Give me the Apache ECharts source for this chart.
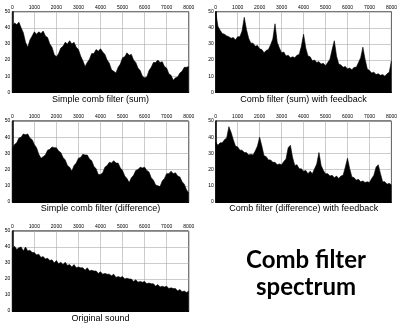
<!DOCTYPE html>
<html>
<head>
<meta charset="utf-8">
<script src="https://cdn.jsdelivr.net/npm/echarts@6/dist/echarts.min.js"></script>
<style>
html,body{margin:0;padding:0;background:#fff;}
#c{width:400px;height:327px;}
</style>
</head>
<body>
<div id="c"></div>
<script>
// Frequency step between samples (Hz); samples run 0..8000
const freqStep = 100;
const xTicks = [0,1000,2000,3000,4000,5000,6000,7000,8000];
const yTicks = [0,10,20,30,40,50];

const panelTitles = [
  "Simple comb filter (sum)",
  "Comb filter (sum) with feedback",
  "Simple comb filter (difference)",
  "Comb filter (difference) with feedback",
  "Original sound"
];
const mainTitle = ["Comb filter", "spectrum"];

const combSum = [41,43,42,43.5,40,37,31,28,32.5,35,37.5,36,37.5,36.5,38,35,34,30,28,23.5,22,24,27.5,28.5,31,30,32,30,31,28,26.5,22.5,19.5,16,18.5,20.5,24,24,26.5,25.5,27,25,23.5,20,18,14,13,12,15.5,17.5,21.5,22,24.5,23,23.5,20,18.5,15,13.5,10,9,9.5,13.5,15.5,18.5,18.5,20,18.5,19,16,15,11.5,10.5,7.5,9,9.5,12,13,15.5,15.5,16];

const combSumFb = [50,41,38.5,36.5,36,35,34.5,33.5,34,32.5,34.5,34.5,38,46.5,39,33.5,30.5,30.5,28.5,29,27,26.5,24.5,26,26.5,29.5,33,42.5,31,27.5,24.5,25,22.5,23,21.5,22,21.5,23,23.5,28.5,36,27.5,22.5,22,19.5,20,18.5,19,17.5,18,16.5,18.5,20.5,26.5,32,22.5,17.5,17,15.5,16,14.5,15,14,15.5,15.5,18.5,21.5,28,20.5,14.5,13.5,12,12.5,11,11.5,10.5,11,10,11.5,12.5,19.5];

const combDiff = [33,35.5,36.5,39.5,40,42,41.5,42,39.5,38.5,35.5,33.5,29.5,27,28,29,32,32.5,34,33.5,33.5,31.5,30.5,27.5,26,22.5,21.5,19,22.5,24,27,27.5,29.5,29,29,26.5,25.5,22,20.5,17,17,18,21.5,22.5,24.5,24,25.5,24,24,21,19.5,16,14.5,12,15,16.5,19.5,20,21.5,21,21.5,19.5,18.5,15,13.5,10.5,10,9.5,13,14.5,17.5,17.5,19,17.5,18,16,15.5,12.5,11,7.5,5.5];

const combDiffFb = [37,35,36.5,36.5,38.5,39.5,46.5,43,38.5,34.5,34,32,32,30.5,30.5,29,29.5,29,31.5,34.5,40,34.5,28.5,28,26,26,24.5,24.5,23,23.5,23,25,26.5,33.5,35,27.5,22.5,23,20.5,20.5,19,19.5,17.5,19,17.5,20.5,23.5,30.5,22.5,19.5,17.5,17.5,16,16.5,15,16,14.5,16,16.5,21.5,27,20.5,15.5,15,13.5,14,12.5,13,12,12.5,12,14.5,16.5,21.5,23,17.5,12.5,12.5,11,11.5,10.5];

const original = [39,40.5,38.5,39.5,40,37.5,40,37.5,38,36.5,36.5,35,35.5,33.5,34,32.5,33,31.5,32,30,31.5,29.5,30.5,29,30.5,28.5,29,27.5,29,27,27.5,27,27,25.5,27,25,25.5,25,25,23.5,24.5,23,23.5,23,23,22,23,21,21.5,21,21.5,20,20.5,20,20,18.5,19.5,18,18.5,18,18.5,17,17.5,17,17,15.5,16.5,15,15.5,15,15.5,14,14.5,14,14,12.5,13.5,12,12.5,11.5,12.5];

const seriesList = [combSum, combSumFb, combDiff, combDiffFb, original];

const grids = [
  {left:12.3, top:11.7, width:176.4, height:80.6},
  {left:215.7, top:11.7, width:176, height:80.6},
  {left:12.3, top:121, width:176.4, height:81},
  {left:215.7, top:121, width:176, height:81},
  {left:12.3, top:231, width:176.4, height:80}
];
const titlePos = [[100.5,100],[303.5,100],[100.5,209],[303.7,209],[100.5,319]];

const chart = echarts.init(document.getElementById('c'), null, {renderer:'canvas'});
const option = {
  backgroundColor:'#fff',
  animation:false,
  grid: grids.map(g => Object.assign({show:true, borderColor:'#000', borderWidth:1, backgroundColor:'#fff'}, g)),
  xAxis: grids.map((g,i) => ({
    type:'value', gridIndex:i, position:'top', min:xTicks[0], max:xTicks[xTicks.length-1], interval:1000,
    axisLine:{show:true, lineStyle:{color:'#000', width:1}},
    axisTick:{show:false},
    axisLabel:{fontSize:5, margin:2, color:'#000', fontFamily:'Liberation Sans', formatter: v => String(v)},
    splitLine:{show:true, lineStyle:{color:'#aaa', width:0.6}}
  })),
  yAxis: grids.map((g,i) => ({
    type:'value', gridIndex:i, min:yTicks[0], max:yTicks[yTicks.length-1], interval:10,
    axisLine:{show:true, lineStyle:{color:'#000', width:1.5}},
    axisTick:{show:false},
    axisLabel:{fontSize:5, margin:2, color:'#000', fontFamily:'Liberation Sans', formatter: v => String(v)},
    splitLine:{show:true, lineStyle:{color:'#aaa', width:0.6}}
  })),
  series: seriesList.map((arr,i) => ({
    type:'line', xAxisIndex:i, yAxisIndex:i, symbol:'none', silent:true,
    data: arr.map((v,k) => [k*freqStep, v]),
    lineStyle:{color:'#000', width:0.6},
    areaStyle:{color:'#000', opacity:1}
  })),
  graphic: titlePos.map((p,i) => ({
    type:'text', x:p[0], y:p[1],
    style:{text:panelTitles[i], textAlign:'center', textVerticalAlign:'middle', font:'9px "Liberation Sans", Arial, sans-serif', fill:'#000'}
  })).concat([
    {type:'text', x:306, y:260, style:{text:mainTitle[0], textAlign:'center', textVerticalAlign:'middle', font:'bold 24px Lato, sans-serif', fill:'#000'}},
    {type:'text', x:306, y:287, style:{text:mainTitle[1], textAlign:'center', textVerticalAlign:'middle', font:'bold 24px Lato, sans-serif', fill:'#000'}}
  ])
};
chart.setOption(option);
</script>
</body>
</html>
